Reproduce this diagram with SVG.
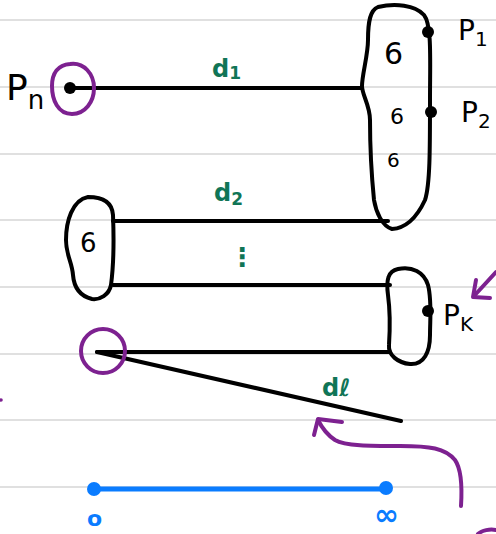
<svg xmlns="http://www.w3.org/2000/svg" width="496" height="534" viewBox="0 0 496 534">
<defs>
<style>
.rule{stroke:#d6d6d6;stroke-width:1.5}
.ink{stroke:#000;stroke-width:4;fill:none;stroke-linecap:round;stroke-linejoin:round}
.purple{stroke:#7d2190;stroke-width:4;fill:none;stroke-linecap:round;stroke-linejoin:round}
.blue{stroke:#0a7cff;stroke-width:5;fill:none;stroke-linecap:round}
.lbl{font-family:"DejaVu Sans",sans-serif;fill:#000}
.grn{font-family:"DejaVu Sans",sans-serif;fill:#107556;font-weight:bold}
.bl{font-family:"DejaVu Sans",sans-serif;fill:#0a7cff;font-weight:bold}
</style>
</defs>
<rect width="496" height="534" fill="#fff"/>
<g id="rules">
<line class="rule" x1="0" y1="20" x2="496" y2="20"/>
<line class="rule" x1="0" y1="87" x2="496" y2="87"/>
<line class="rule" x1="0" y1="154" x2="496" y2="154"/>
<line class="rule" x1="0" y1="220" x2="496" y2="220"/>
<line class="rule" x1="0" y1="287" x2="496" y2="287"/>
<line class="rule" x1="0" y1="354" x2="496" y2="354"/>
<line class="rule" x1="0" y1="420" x2="496" y2="420"/>
<line class="rule" x1="0" y1="487" x2="496" y2="487"/>
</g>
<g id="connectors">
<line class="ink" x1="70" y1="88" x2="362" y2="88"/>
<line class="ink" x1="113" y1="221" x2="388" y2="221"/>
<line class="ink" x1="113" y1="285" x2="390" y2="285"/>
<line class="ink" x1="97" y1="352" x2="390" y2="352"/>
<line class="ink" x1="97" y1="352" x2="401" y2="421"/>
<text class="grn" x="212" y="77" font-size="24">d<tspan font-size="17" dy="2">1</tspan></text>
<text class="grn" x="214" y="201" font-size="24">d<tspan font-size="17" dy="4">2</tspan></text>
<text class="grn" x="229" y="266" font-size="26" font-weight="normal">⋮</text>
<text class="grn" x="322" y="396" font-size="24">dℓ</text>
</g>
<g id="pn">
<path class="purple" d="M70,64 C84,62 94,74 94,88 C94,102 85,114 72,114 C58,114 52,100 52,86 C52,73 58,65 70,64 Z"/>
<circle cx="70" cy="88" r="6" fill="#000"/>
<text class="lbl" x="6" y="100" font-size="36">P<tspan font-size="26" dy="9">n</tspan></text>
</g>
<g id="cluster1">
<path class="ink" d="M378,7 C395,3 415,5 424,15 C432,25 430,60 430,100 C430,150 430,185 425,200 C418,215 408,228 392,229 C382,226 376,212 374,200 C372,180 370,150 370,120 C370,105 362,95 362,86 C362,75 368,55 368,40 C368,22 370,10 378,7 Z"/>
<circle cx="428" cy="32" r="6" fill="#000"/>
<circle cx="431" cy="112" r="6" fill="#000"/>
<text class="lbl" x="384" y="64" font-size="30">6</text>
<text class="lbl" x="390" y="124" font-size="22">6</text>
<text class="lbl" x="387" y="167" font-size="20">6</text>
<text class="lbl" x="458" y="40" font-size="28">P<tspan font-size="20" dy="6">1</tspan></text>
<text class="lbl" x="461" y="122" font-size="28">P<tspan font-size="20" dy="6">2</tspan></text>
</g>
<g id="cluster2">
<path class="ink" d="M88,197 C100,197 112,200 113,215 C114,240 113,270 111,285 C109,295 100,300 92,299 C80,296 74,288 73,275 C72,262 66,255 66,240 C66,222 72,200 88,197 Z"/>
<text class="lbl" x="80" y="252" font-size="26">6</text>
</g>
<g id="cluster3">
<path class="ink" d="M398,269 C412,266 424,272 428,285 C432,300 430,320 430,335 C430,352 424,365 410,364 C398,363 388,355 389,345 C390,330 390,310 388,295 C386,280 388,271 398,269 Z"/>
<circle cx="428" cy="311" r="6" fill="#000"/>
<text class="lbl" x="443" y="325" font-size="28">P<tspan font-size="20" dy="6">K</tspan></text>
</g>
<g id="pl">
<circle class="purple" cx="103" cy="351" r="22" stroke-width="3.5"/>
</g>
<g id="annotations">
<path class="purple" d="M461,506 C462,490 462,470 455,460 C445,448 430,446 400,446 C370,446 345,446 335,440 C326,434 322,428 318,420"/>
<path class="purple" d="M342,422 L318,419 L314,435"/>
<path class="purple" d="M496,272 L474,296"/>
<path class="purple" d="M476,280 L473,297 L490,298"/>
<path class="purple" d="M478,534 C482,530 490,529 496,530"/>
<circle cx="1" cy="400" r="1.8" fill="#7d2190"/>
</g>
<g id="scale">
<line class="blue" x1="94" y1="489" x2="386" y2="489"/>
<circle cx="94" cy="489" r="7" fill="#0a7cff"/>
<circle cx="386" cy="488" r="7" fill="#0a7cff"/>
<text class="bl" x="87" y="526" font-size="22">o</text>
<text class="bl" x="374" y="525" font-size="30" font-weight="normal">∞</text>
</g>
</svg>
